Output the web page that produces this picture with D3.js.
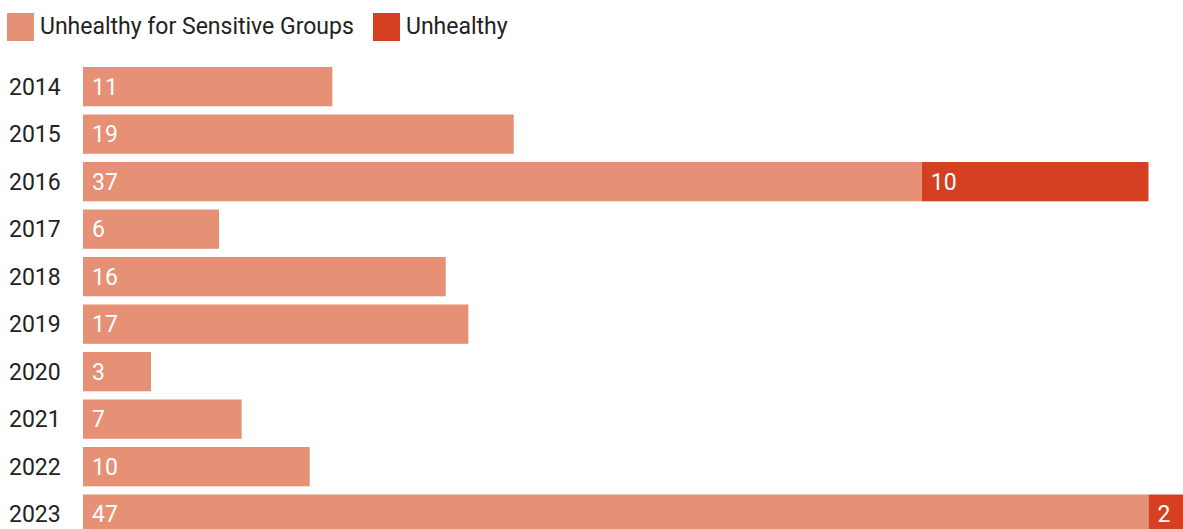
<!DOCTYPE html>
<html>
<head>
<meta charset="utf-8">
<script src="https://cdn.jsdelivr.net/npm/d3@7"></script>
<style>
  html, body { margin: 0; padding: 0; background: #fff; overflow: hidden; }
  svg { display: block; font-family: Roboto, "Noto Sans", sans-serif; }
</style>
</head>
<body>
<svg id="chart" width="1183" height="529"></svg>
<script>
// Days per year at each AQI level
const years = ["2014", "2015", "2016", "2017", "2018", "2019", "2020", "2021", "2022", "2023"];
const sensitiveDays = [11, 19, 37, 6, 16, 17, 3, 7, 10, 47];
const unhealthyDays = [0, 0, 10, 0, 0, 0, 0, 0, 0, 2];
const seriesNames = ["Unhealthy for Sensitive Groups", "Unhealthy"];
const seriesColors = ["#e69076", "#d64022"];

const svg = d3.select("#chart");

const margin = { left: 83, top: 67 };
const step = 47.5;
const barH = 39.3;
const fontSize = 23;

const rows = years.map((y, i) => ({
  year: y,
  "Unhealthy for Sensitive Groups": sensitiveDays[i],
  "Unhealthy": unhealthyDays[i]
}));

const stack = d3.stack().keys(seriesNames)(rows);

const x = d3.scaleLinear().domain([0, 47]).range([margin.left, margin.left + 1065.5]);
// band scale: n bars, (n-1) gaps, no outer padding
const pad = (step - barH) / step;
const y = d3.scaleBand()
  .domain(years)
  .range([margin.top, margin.top + step * (years.length - pad)])
  .paddingInner(pad)
  .paddingOuter(0);

const color = d3.scaleOrdinal().domain(seriesNames).range(seriesColors);

// Legend
const legend = svg.append("g");
const legendX = [7, 373];
seriesNames.forEach((name, i) => {
  const g = legend.append("g").attr("transform", `translate(${legendX[i]},13)`);
  g.append("rect").attr("width", 27).attr("height", 28).attr("fill", seriesColors[i]);
  g.append("text").attr("x", 33).attr("y", 20.5)
    .attr("font-size", fontSize).attr("fill", "#222")
    .text(name);
});

// Bars
const layers = svg.append("g").selectAll("g")
  .data(stack)
  .join("g")
  .attr("fill", d => color(d.key));

layers.selectAll("rect")
  .data(d => d.filter(s => s[1] - s[0] > 0))
  .join("rect")
  .attr("x", d => x(d[0]))
  .attr("y", d => y(d.data.year))
  .attr("width", d => x(d[1]) - x(d[0]))
  .attr("height", y.bandwidth());

// Value labels inside bars
layers.selectAll("text")
  .data(d => d.filter(s => s[1] - s[0] > 0))
  .join("text")
  .attr("x", d => x(d[0]) + 9)
  .attr("y", d => y(d.data.year) + y.bandwidth() / 2)
  .attr("dy", "0.36em")
  .attr("font-size", fontSize)
  .attr("fill", "#fff")
  .text(d => d[1] - d[0]);

// Year labels
const yAxis = svg.append("g")
  .attr("transform", `translate(9,0)`);
yAxis.selectAll("text")
  .data(years)
  .join("text")
  .attr("x", 0)
  .attr("y", d => y(d) + y.bandwidth() / 2)
  .attr("dy", "0.36em")
  .attr("font-size", fontSize)
  .attr("fill", "#222")
  .text(d => d);
</script>
</body>
</html>
